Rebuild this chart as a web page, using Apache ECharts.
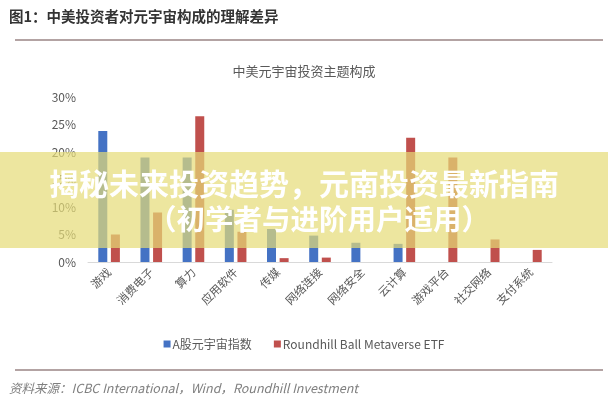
<!DOCTYPE html>
<html>
<head>
<meta charset="utf-8">
<script src="https://cdn.jsdelivr.net/npm/echarts@6/dist/echarts.min.js"></script>
<style>html,body{margin:0;padding:0;background:#fff}#c{width:608px;height:400px}</style>
</head>
<body>
<div id="c"></div>
<script>
const categories = ['游戏','消费电子','算力','应用软件','传媒','网络连接','网络安全','云计算','游戏平台','社交网络','支付系统'];
const seriesNames = ['A股元宇宙指数','Roundhill Ball Metaverse ETF'];
const aShare = [0.238,0.19,0.19,0.095,0.06,0.048,0.035,0.033,0,0,0];
const roundhill = [0.05,0.09,0.265,0.055,0.007,0.008,0,0.226,0.19,0.041,0.022];
const yTicks = [0,0.05,0.10,0.15,0.20,0.25,0.30];

const FONT = '"Noto Sans CJK SC","Noto Sans",sans-serif';
const chart = echarts.init(document.getElementById('c'), null, {renderer:'canvas'});
chart.setOption({
  animation:false,
  backgroundColor:'#fff',
  textStyle:{fontFamily:FONT},
  title:{text:'中美元宇宙投资主题构成',left:'center',top:60,
    textStyle:{fontSize:13,fontWeight:'normal',color:'#595959',fontFamily:FONT}},
  grid:{left:88,right:56,top:97,bottom:138,containLabel:false},
  legend:{data:seriesNames,left:'center',top:333,icon:'rect',itemWidth:7,itemHeight:7,itemGap:22,
    textStyle:{fontSize:12,color:'#595959',fontFamily:FONT,padding:[0,0,0,-3]}},
  xAxis:{type:'category',data:categories,
    axisLine:{lineStyle:{color:'#d9d9d9',width:1}},axisTick:{show:false},
    axisLabel:{rotate:45,fontSize:11.5,color:'#595959',margin:8,interval:0,fontFamily:FONT}},
  yAxis:{type:'value',min:yTicks[0],max:yTicks[yTicks.length-1],interval:0.05,
    splitLine:{show:false},axisLine:{show:false},axisTick:{show:false},
    axisLabel:{fontSize:12,color:'#595959',margin:12,fontFamily:FONT,
      formatter:v=>Math.round(v*100)+'%'}},
  series:[
    {name:seriesNames[0],type:'bar',data:aShare,barWidth:9,barGap:'40%',itemStyle:{color:'#4472c4'}},
    {name:seriesNames[1],type:'bar',data:roundhill,barWidth:9,barGap:'40%',itemStyle:{color:'#c0504d'}}
  ],
  graphic:[
    {type:'text',left:9,top:9,z:100,style:{text:'图1：中美投资者对元宇宙构成的理解差异',fontSize:14.5,fontWeight:'bold',fill:'#333',fontFamily:FONT}},
    {type:'line',z:100,shape:{x1:15,y1:40,x2:603,y2:40},style:{stroke:'#9a8585',lineWidth:1.5}},
    {type:'line',z:100,shape:{x1:15,y1:370,x2:603,y2:370},style:{stroke:'#9a8585',lineWidth:1.5}},
    {type:'text',left:9,top:382,z:100,style:{text:'资料来源：ICBC International，Wind，Roundhill Investment',fontSize:12.5,fontStyle:'italic',fill:'#7f7f7f',fontFamily:FONT}},
    {type:'rect',z:200,shape:{x:0,y:152,width:608,height:96},style:{fill:'rgba(230,220,118,0.7)'}},
    {type:'text',z:201,x:304,y:184,style:{text:'揭秘未来投资趋势，元南投资最新指南',fontSize:30,fontWeight:'bold',fill:'#fff',align:'center',verticalAlign:'middle',fontFamily:FONT}},
    {type:'text',z:201,x:319,y:219,style:{text:'（初学者与进阶用户适用）',fontSize:28.5,fontWeight:'bold',fill:'#fff',align:'center',verticalAlign:'middle',fontFamily:FONT}}
  ]
});
</script>
</body>
</html>
